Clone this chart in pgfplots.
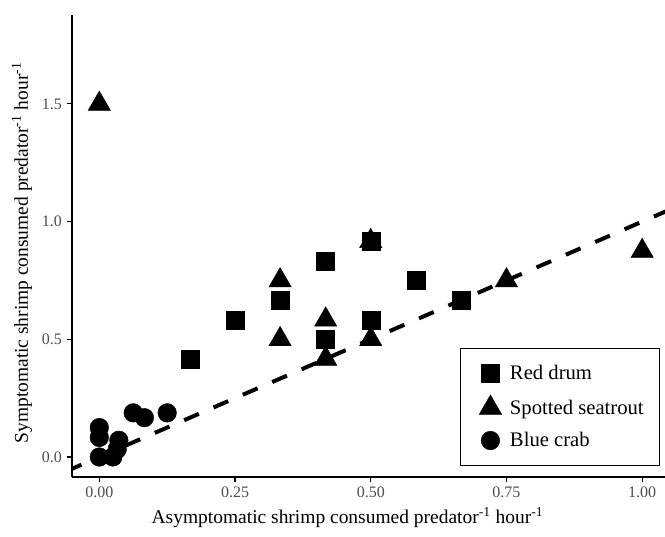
\documentclass[border=0pt]{standalone}
\usepackage{pgfplots}
\pgfplotsset{compat=1.18}
\usetikzlibrary{calc}
\usepackage{fontspec}
\setmainfont{Liberation Serif}
\definecolor{ticktext}{RGB}{77,77,77}

\begin{document}
\begin{tikzpicture}
\begin{axis}[
	scale only axis,
	width=444.75pt, height=346.5pt,
	xmin=-0.0503, xmax=1.042,
	ymin=-0.085, ymax=1.878,
	axis x line*=bottom, axis y line*=left,
	axis line style={line width=1.1pt, -},
	xtick={0,0.25,0.5,0.75,1},
	ytick={0,0.5,1,1.5},
	x tick label style={/pgf/number format/.cd, fixed, fixed zerofill, precision=2},
	y tick label style={/pgf/number format/.cd, fixed, fixed zerofill, precision=1},
	/pgf/number format/assume math mode=true,
	tick align=outside,
	major tick length=4pt,
	tick style={line width=0.8pt, black},
	tick label style={font=\fontsize{12}{14}\selectfont, text=ticktext},
	xlabel={Asymptomatic shrimp consumed predator\textsuperscript{-1} hour\textsuperscript{-1}},
	ylabel={Symptomatic shrimp consumed predator\textsuperscript{-1} hour\textsuperscript{-1}},
	label style={font=\fontsize{14.6}{17}\selectfont},
	xlabel style={at={(axis description cs:0.4646,-0.0887)}, anchor=center},
	ylabel style={at={(axis description cs:-0.0843,0.485)}, anchor=center},
	legend style={at={(0.992,0.024)}, anchor=south east, draw=black, line width=0.8pt,
		font=\fontsize{15.5}{18}\selectfont, row sep=8.25pt, inner xsep=10pt, inner ysep=10.5pt},
	legend cell align=left,
	legend image code/.code={
		\path (0.3cm-16pt,0) (0.3cm+8.3pt,0);
		\draw[mark repeat=2, mark phase=2, #1] plot coordinates {(0cm,0cm) (0.3cm,0cm) (0.6cm,0cm)};
	},
]
% 1:1 line
\addplot[forget plot, black, line width=3pt, dash pattern=on 12pt off 12pt]
	coordinates {(-0.06,-0.06) (1.06,1.06)};

\addplot[only marks, mark=square*, mark size=6.75pt, mark options={solid, fill=black, line width=0.3pt}]
	coordinates {
	(0.167,0.417) (0.25,0.583) (0.333,0.667) (0.417,0.833) (0.417,0.5)
	(0.5,0.917) (0.5,0.583) (0.583,0.75) (0.667,0.667)
};
\addlegendentry{Red drum}

\addplot[only marks, mark=triangle*, mark size=9.7pt, mark options={solid, fill=black, line width=0.3pt}]
	coordinates {
	(0,1.5) (0.333,0.75) (0.333,0.5) (0.417,0.583) (0.417,0.417)
	(0.5,0.917) (0.5,0.5) (0.75,0.75) (1.0,0.875)
};
\addlegendentry{Spotted seatrout}

\addplot[only marks, mark=*, mark size=7pt, mark options={solid, fill=black, line width=0.3pt}]
	coordinates {
	(0,0.125) (0,0.083) (0,0) (0.025,0) (0.033,0.033) (0.036,0.071)
	(0.0625,0.1875) (0.083,0.167) (0.125,0.1875)
};
\addlegendentry{Blue crab}

\coordinate (tl) at (rel axis cs:0,1);
\coordinate (br) at (rel axis cs:1,0);
\end{axis}
\pgfresetboundingbox
\path ($(tl)+(-54pt,11.25pt)$) rectangle ($(br)+(0,-45pt)$);
\end{tikzpicture}
\end{document}
